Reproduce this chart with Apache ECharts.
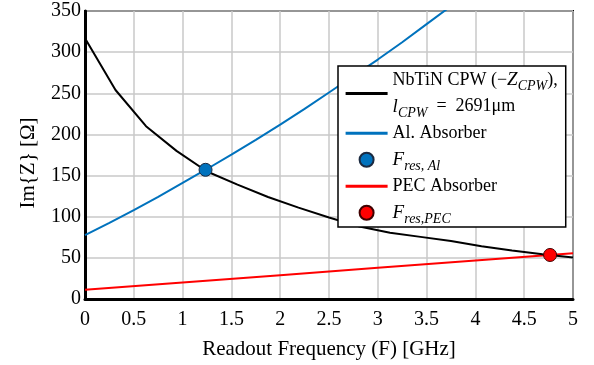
<!DOCTYPE html>
<html>
<head>
<meta charset="utf-8">
<script src="https://cdn.jsdelivr.net/npm/echarts@6/dist/echarts.min.js"></script>
<style>html,body{margin:0;padding:0;background:#fff}#c{width:594px;height:365px}</style>
</head>
<body>
<div id="c"></div>
<script>
// NbTiN CPW (-Z_CPW) samples
const cpwFreq = [0, 0.3125, 0.625, 0.9375, 1.25, 1.5625, 1.875, 2.1875, 2.5, 2.8125, 3.125, 3.4375, 3.75, 4.0625, 4.375, 4.6875, 5];
const cpwIm = [317, 254, 210, 180, 155, 139, 124, 111, 99, 88, 80.5, 75.5, 70.4, 64, 59, 54.5, 50.5];
// Al. Absorber
const alFreq = [0, 0.25, 0.5, 0.75, 1, 1.25, 1.5, 1.75, 2, 2.25, 2.5, 2.75, 3, 3.25, 3.5, 3.75];
const alIm = [77.5, 92.5, 108, 124, 141, 158, 175.5, 193.5, 212, 231, 251, 271, 291, 312, 334, 356];
// PEC Absorber
const pecFreq = [0, 1, 2, 3, 4, 5];
const pecIm = [11.2, 20, 29, 38, 46.8, 55.7];
// Resonance points
const resAl = [1.235, 157];
const resPec = [4.765, 53.5];
const xTicks = {min: 0, max: 5, step: 0.5};
const yTicks = {min: 0, max: 350, step: 50};

const zip = (a, b) => a.map((v, i) => [v, b[i]]);
const FONT = 'Liberation Serif';

const chart = echarts.init(document.getElementById('c'), null, {renderer: 'canvas'});
const legendLabels = {
  'NbTiN': '{n|NbTiN CPW (−}{i|Z}{s|CPW}{n|),}\n{i|l}{s|CPW}{n|  =  2691μm}',
  'Al. Absorber': '{n|Al. Absorber}',
  'FresAl': '{i|F}{s|res, Al}',
  'PEC Absorber': '{n|PEC Absorber}',
  'FresPEC': '{i|F}{s|res,PEC}'
};
chart.setOption({
  animation: false,
  backgroundColor: '#fff',
  grid: {left: 85, right: 21, top: 11, bottom: 63, show: true, borderColor: '#000', borderWidth: 2, backgroundColor: 'transparent'},
  xAxis: {
    type: 'value', min: xTicks.min, max: xTicks.max, interval: xTicks.step,
    name: 'Readout Frequency (F) [GHz]', nameLocation: 'middle', nameGap: 40,
    nameTextStyle: {fontFamily: FONT, fontSize: 21, color: '#000'},
    axisLine: {show: true, onZero: false, lineStyle: {color: '#000', width: 3}},
    axisTick: {show: false},
    axisLabel: {fontFamily: FONT, fontSize: 20, color: '#000', margin: 11},
    splitLine: {show: true, lineStyle: {color: '#c8c8c8', width: 1.5}}
  },
  yAxis: {
    type: 'value', min: yTicks.min, max: yTicks.max, interval: yTicks.step,
    name: 'Im{Z} [Ω]', nameLocation: 'middle', nameGap: 46, nameRotate: 90,
    nameTextStyle: {fontFamily: FONT, fontSize: 21, color: '#000', padding: [0, 16, 0, 0]},
    axisLine: {show: true, onZero: false, lineStyle: {color: '#000', width: 3}},
    axisTick: {show: false},
    axisLabel: {fontFamily: FONT, fontSize: 20, color: '#000', margin: 4},
    splitLine: {show: true, lineStyle: {color: '#c8c8c8', width: 1.5}}
  },
  legend: {
    orient: 'vertical', left: 338, top: 66,
    padding: [1, 8, 1, 6], itemGap: 0, itemWidth: 42, itemHeight: 14,
    backgroundColor: '#fff', borderColor: '#000', borderWidth: 1.5, borderRadius: 0,
    data: [
      {name: 'NbTiN', lineStyle: {width: 3.2}, itemStyle: {opacity: 0}},
      {name: 'Al. Absorber', lineStyle: {width: 3.2}, itemStyle: {opacity: 0}},
      {name: 'FresAl', icon: 'circle'},
      {name: 'PEC Absorber', lineStyle: {width: 3.2}, itemStyle: {opacity: 0}},
      {name: 'FresPEC', icon: 'circle'}
    ],
    formatter: n => legendLabels[n],
    textStyle: {
      fontFamily: FONT, fontSize: 18, color: '#000', lineHeight: 26.5,
      rich: {
        n: {fontFamily: FONT, fontSize: 18, color: '#000', lineHeight: 26.5},
        i: {fontFamily: FONT, fontSize: 19, fontStyle: 'italic', color: '#000', lineHeight: 26.5},
        s: {fontFamily: FONT, fontSize: 14, fontStyle: 'italic', color: '#000', lineHeight: 16, verticalAlign: 'bottom'}
      }
    }
  },
  series: [
    {name: 'NbTiN', type: 'line', data: zip(cpwFreq, cpwIm), symbol: 'none', smooth: false,
     lineStyle: {color: '#000', width: 2}, itemStyle: {color: '#000'}, z: 3},
    {name: 'Al. Absorber', type: 'line', data: zip(alFreq, alIm), symbol: 'none', smooth: false,
     lineStyle: {color: '#0072BD', width: 2}, itemStyle: {color: '#0072BD'}, z: 2},
    {name: 'FresAl', type: 'scatter', data: [resAl], symbol: 'circle', symbolSize: 13,
     itemStyle: {color: '#0072BD', borderColor: '#1b2a40', borderWidth: 1, opacity: 1}, z: 5},
    {name: 'PEC Absorber', type: 'line', data: zip(pecFreq, pecIm), symbol: 'none', smooth: false,
     lineStyle: {color: '#FF0000', width: 2}, itemStyle: {color: '#FF0000'}, z: 2},
    {name: 'FresPEC', type: 'scatter', data: [resPec], symbol: 'circle', symbolSize: 13,
     itemStyle: {color: '#FF0000', borderColor: '#400000', borderWidth: 1, opacity: 1}, z: 5}
  ]
});
</script>
</body>
</html>
